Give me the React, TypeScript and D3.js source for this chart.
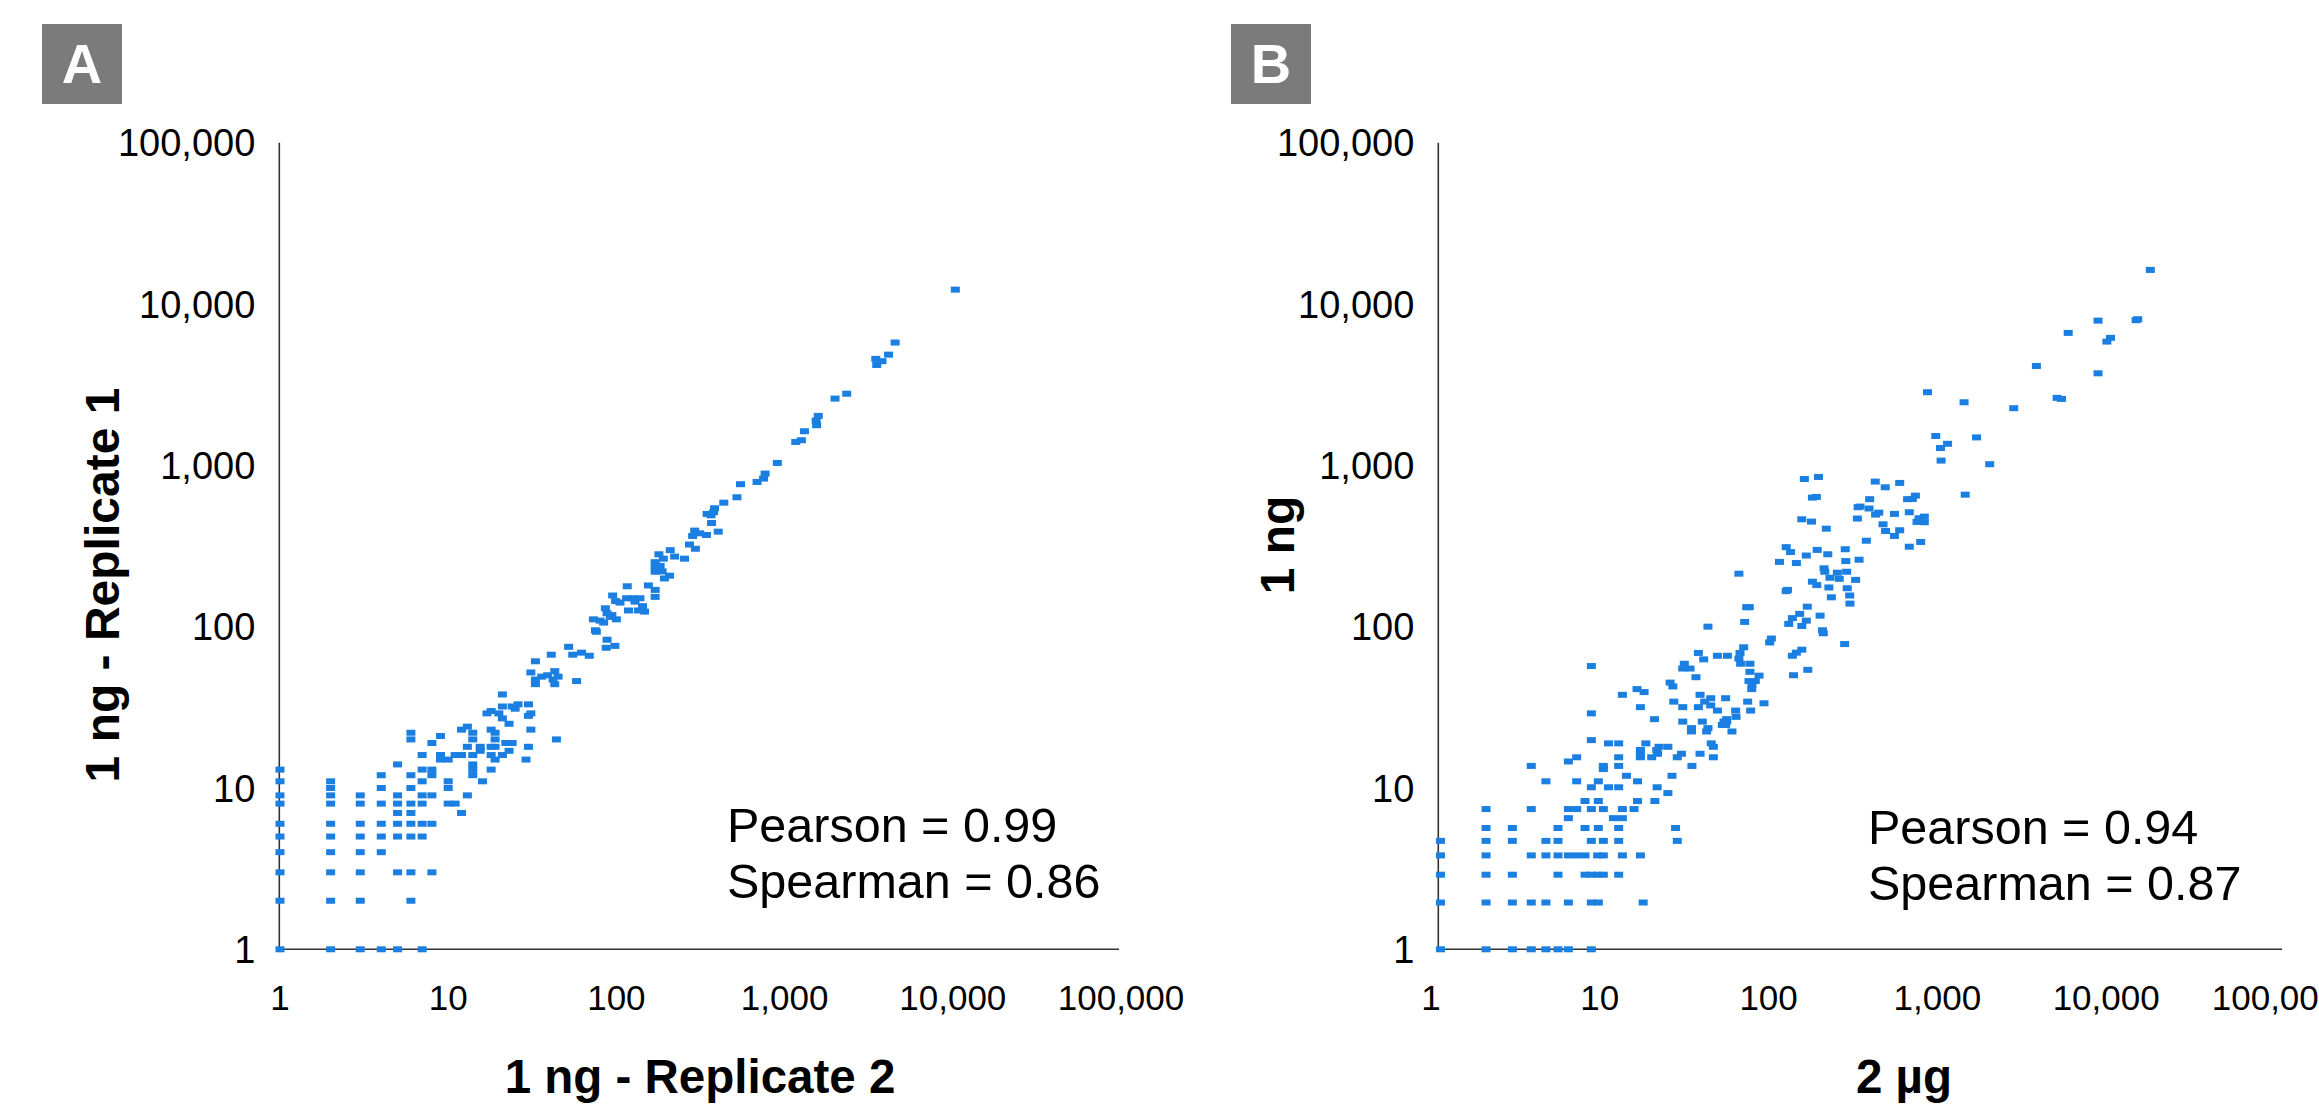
import React from 'react';
import * as d3 from 'd3';

// ---------- tick values / labels ----------
const tickValues: number[] = [1, 10, 100, 1000, 10000, 100000];
const tickLabels: string[] = ['1', '10', '100', '1,000', '10,000', '100,000'];

// ---------- Panel A : 1 ng replicate 2 (x) vs replicate 1 (y) ----------
const panelALow: [number, number][] = [
  [1, 1], [1, 2], [1, 3], [1, 4], [1, 5], [1, 6], [1, 8], [1, 9], [1, 11], [1, 13],
  [2, 1], [2, 2], [2, 3], [2, 4], [2, 5], [2, 6], [2, 8], [2, 9], [2, 10], [2, 11],
  [3, 1], [3, 2], [3, 3], [3, 4], [3, 5], [3, 6], [3, 8], [3, 9],
  [4, 1], [4, 4], [4, 5], [4, 6], [4, 8], [4, 10], [4, 12],
  [5, 1], [5, 3], [5, 5], [5, 6], [5, 7], [5, 8], [5, 9], [5, 14],
  [6, 2], [6, 3], [6, 5], [6, 6], [6, 7], [6, 8], [6, 10], [6, 12], [6, 20], [6, 22],
  [7, 1], [7, 5], [7, 6], [7, 8], [7, 9], [7, 11], [7, 13], [7, 16],
  [8, 3], [8, 6], [8, 9], [8, 12], [8, 13], [8, 19],
  [9, 15], [9, 16], [9, 21],
  [10, 8], [10, 10], [10, 11], [10, 15],
  [11, 8], [11, 16], [12, 7], [12, 16], [12, 23], [13, 9], [13, 18], [13, 24],
  [14, 12], [14, 13], [14, 14], [14, 16], [14, 20], [14, 22],
];

const panelAMid: [number, number][] = [
  [15.5, 18], [15.5, 17], [16, 11], [17, 29], [18, 30], [18, 23], [18, 18], [18, 16], [18, 13],
  [19, 22], [19, 20], [19, 18], [19, 15], [20, 29], [21, 38], [21, 32], [21, 27], [21, 16], [22, 19],
  [23, 25], [23, 17], [24, 32], [24, 19], [25, 31], [26, 33], [29, 15], [30, 33], [30, 28], [30, 18],
  [31, 52], [31, 29], [31, 23], [33, 47], [33, 44], [33, 61], [36, 49], [39, 50], [41, 67], [42, 47],
  [43, 53], [43, 44], [44, 20], [45, 49], [52, 75], [55, 67], [58, 46], [62, 69], [69, 66],
  [73, 111], [80, 109], [84, 106], [75, 95], [76, 93], [88, 83], [87, 74], [98, 76],
  [86, 130], [88, 121], [94, 118], [100, 111], [92, 115], [95, 156], [99, 144], [105, 141],
  [115, 150], [125, 150], [138, 150], [129, 143], [143, 134], [118, 126], [135, 126], [147, 124],
  [116, 178], [155, 180], [170, 169], [170, 153], [179, 281], [170, 251], [170, 234], [170, 219],
];

const panelAHigh: [number, number][] = [
  [182, 238], [187, 220], [190, 264], [193, 199], [207, 207], [209, 298], [222, 272], [254, 264],
  [272, 323], [295, 304], [292, 394], [284, 365], [313, 379], [343, 370], [368, 439], [403, 388],
  [365, 490], [346, 500], [378, 512], [383, 542], [435, 587], [521, 634], [547, 764], [686, 789],
  [750, 828], [766, 889], [905, 1035], [1165, 1397], [1258, 1431], [1312, 1627], [1550, 1773],
  [1540, 1893], [1585, 2025], [1995, 2593], [2340, 2780], [3530, 4190], [3795, 4420], [3485, 4570],
  [4150, 4855], [4540, 5770], [10350, 12280],
];

// ---------- Panel B : 2 µg (x) vs 1 ng (y) ----------
const panelBLow: [number, number][] = [
  [1.02, 1], [1.9, 1], [2.72, 1], [3.52, 1], [4.3, 1], [5.07, 1], [5.84, 1], [7.99, 1],
  [1.02, 1.95], [1.9, 1.95], [2.72, 1.95], [3.52, 1.95], [4.3, 1.95], [5.84, 1.95], [7.99, 1.95], [8.79, 1.95], [16.2, 1.95],
  [1.02, 2.9], [1.9, 2.9], [2.72, 2.9], [5.07, 2.9], [7.33, 2.9], [7.99, 2.9], [8.71, 2.9], [9.41, 2.9], [11.6, 2.9],
  [1.02, 3.82], [1.9, 3.82], [3.52, 3.82], [4.3, 3.82], [5.07, 3.82], [5.84, 3.82], [6.54, 3.82], [7.33, 3.82], [8.71, 3.82], [9.41, 3.82], [12.2, 3.82], [15.6, 3.82],
  [1.02, 4.7], [1.9, 4.7], [2.72, 4.7], [4.3, 4.7], [5.07, 4.7], [7.99, 4.7], [9.41, 4.7], [11.6, 4.7], [25.8, 4.7],
  [1.9, 5.65], [2.72, 5.65], [5.07, 5.65], [7.33, 5.65], [8.79, 5.65], [11.6, 5.65], [25.2, 5.65],
  [5.84, 6.5], [10.8, 6.5], [12.2, 6.5],
  [1.9, 7.4], [3.52, 7.4], [5.84, 7.4], [6.54, 7.4], [7.99, 7.4], [9.41, 7.4], [12.2, 7.4], [14.3, 7.4],
  [7.33, 8.3], [8.79, 8.3], [15, 8.3], [19, 8.3], [22.7, 9.3],
  [7.99, 10.1], [10.1, 10.1], [11.6, 10.1], [19.6, 10.1],
  [4.3, 11], [6.54, 11], [8.79, 11], [15, 11], [12.9, 11.9], [24, 11.9],
  [9.41, 13.1], [3.52, 13.7], [9.41, 13.7], [11.6, 13.7], [31.5, 13.7], [5.84, 14.6],
  [6.54, 15.5], [11.6, 15.5], [15.6, 15.5], [18.2, 15.5], [25.8, 15.5], [42.2, 15.5],
  [15.6, 16.3], [19.7, 16.3], [27.3, 16.3], [35.2, 16.3], [15.6, 17.2], [19.5, 17.2],
  [20.1, 18], [22.7, 18], [42.2, 18], [10.1, 18.9], [11.6, 18.9], [16.8, 18.9], [41, 18.9], [7.99, 19.8],
];

const panelBMid: [number, number][] = [
  [31.3, 22.4], [38.5, 22.4], [54.4, 22.4], [31.3, 23.5], [39.2, 23.5], [47.7, 24.6], [49.9, 24.6],
  [27.8, 25.8], [36.3, 25.8], [50.6, 25.8], [48.8, 25.8], [18.9, 26.7], [50.6, 26.7], [57.5, 27.6],
  [7.99, 29], [44.6, 30.2], [57.2, 30.2], [70.2, 30.2], [15.6, 31.7], [27.8, 31.7], [34.4, 31.7],
  [40.7, 32.5], [84.2, 33.5], [24.6, 34.3], [37.5, 34.3], [67.4, 34.3], [49.9, 36], [40.7, 36],
  [12.2, 37.8], [35.2, 37.8], [16.4, 39.3], [14.9, 41], [71.2, 41], [24.3, 42.6], [71.5, 43.7],
  [23.4, 45], [74.8, 46], [68.6, 46], [33.3, 48.6], [78.7, 49.7], [69.5, 52.5], [27.8, 55], [30.7, 55],
  [7.99, 57], [28.4, 58.9], [61.2, 58.9], [69.5, 58.9], [37, 62.7], [59.8, 63.4], [44.6, 66], [51.1, 66],
  [34.4, 68.7], [60.7, 68.7], [63.8, 74.5], [91, 79.8], [93.1, 84.4], [39.2, 100], [64.7, 107],
  [66.5, 132], [68.9, 132], [59.8, 213],
];

const panelBHigh: [number, number][] = [
  [141, 72], [131, 69], [124, 66], [126, 50], [153, 54], [253, 78], [187, 95], [189, 91], [118, 104],
  [124, 113], [137, 120], [141, 101], [150, 109], [152, 133], [181, 117], [116, 169], [114, 166],
  [163, 190], [173, 181], [204, 175], [211, 152], [262, 173], [271, 156], [272, 139], [191, 230],
  [193, 219], [207, 201], [229, 216], [235, 198], [260, 219], [294, 195], [104, 252], [131, 248],
  [150, 276], [174, 299], [201, 281], [255, 302], [257, 255], [308, 260], [114, 311], [121, 290],
  [141, 463], [161, 448], [197, 405], [340, 341], [146, 823], [177, 847], [163, 631], [172, 637],
  [301, 468], [312, 555], [304, 550], [356, 617], [353, 540],
  [384, 793], [440, 731], [536, 778], [664, 649], [597, 617], [637, 619], [386, 495], [403, 509],
  [499, 500], [611, 512], [698, 470], [750, 481], [750, 444], [679, 446], [427, 431], [442, 392],
  [536, 396], [499, 365], [714, 335], [611, 313],
  [943, 1070], [1830, 1016], [1310, 658], [877, 1520], [1030, 1360], [935, 1280], [1530, 1490],
  [783, 2840], [1290, 2460], [2540, 2260], [4590, 2620], [4870, 2580], [3460, 4130], [8020, 3720],
  [5340, 6620], [9510, 6170], [9050, 5850], [8020, 7890], [13780, 8050], [13490, 7940], [16370, 16270],
];

const panelAStats: string[] = ['Pearson = 0.99', 'Spearman = 0.86'];
const panelBStats: string[] = ['Pearson = 0.94', 'Spearman = 0.87'];

const FONT = '"Liberation Sans", Arial, Helvetica, sans-serif';
const BLUE = '#1a7fe0';
const AXIS = '#333333';

type PanelProps = {
  letter: string;
  boxX: number;
  x0: number;
  x1: number;
  axisEnd: number;
  xLabelShift: number;
  data: [number, number][];
  xTitle: string;
  xTitleX: number;
  yTitle: string;
  yTitleX: number;
  yTitleY: number;
  stats: string[];
  statsX: number;
  statsY: number;
};

const Y_BOTTOM = 949.3;
const Y_TOP = 142.7;

function Panel(p: PanelProps) {
  const xs = d3.scaleLog().domain([1, 100000]).range([p.x0, p.x1]);
  const ys = d3.scaleLog().domain([1, 100000]).range([Y_BOTTOM, Y_TOP]);
  const axisX = p.x0 - 0.7;
  return (
    <g>
      <rect x={p.boxX} y={24} width={80} height={80} fill="#7b7b7b" />
      <text x={p.boxX + 40} y={83} textAnchor="middle" fill="#fff" fontSize={56} fontWeight="bold" fontFamily={FONT}>
        {p.letter}
      </text>
      {/* axes */}
      <line x1={axisX} x2={axisX} y1={Y_TOP} y2={Y_BOTTOM} stroke={AXIS} strokeWidth={1.6} />
      <line x1={axisX} x2={p.axisEnd} y1={Y_BOTTOM} y2={Y_BOTTOM} stroke={AXIS} strokeWidth={1.6} />
      {/* y ticks */}
      {tickValues.map((v, i) => (
        <text key={'y' + i} x={axisX - 24} y={ys(v)} dy="0.36em" textAnchor="end" fontSize={38} fontFamily={FONT} fill="#000">
          {tickLabels[i]}
        </text>
      ))}
      {/* x ticks */}
      {tickValues.map((v, i) => (
        <text key={'x' + i} x={xs(v) + p.xLabelShift} y={1010} textAnchor="middle" fontSize={35} fontFamily={FONT} fill="#000">
          {tickLabels[i]}
        </text>
      ))}
      {/* points */}
      {p.data.map((d, i) => (
        <rect key={'p' + i} x={xs(d[0]) - 4.5} y={ys(d[1]) - 3} width={9} height={6} fill={BLUE} />
      ))}
      {/* titles */}
      <text x={p.xTitleX} y={1093} textAnchor="middle" fontSize={47.5} fontWeight="bold" fontFamily={FONT} fill="#000">
        {p.xTitle}
      </text>
      <text
        transform={`translate(${p.yTitleX},${p.yTitleY}) rotate(-90)`}
        textAnchor="middle"
        fontSize={48}
        fontWeight="bold"
        fontFamily={FONT}
        fill="#000"
      >
        {p.yTitle}
      </text>
      {p.stats.map((s, i) => (
        <text key={'s' + i} x={p.statsX} y={p.statsY + i * 56} fontSize={48.5} fontFamily={FONT} fill="#000">
          {s}
        </text>
      ))}
    </g>
  );
}

export default function App() {
  const dataA = [...panelALow, ...panelAMid, ...panelAHigh];
  const dataB = [...panelBLow, ...panelBMid, ...panelBHigh];
  return (
    <svg
      width={2319}
      height={1109}
      viewBox="0 0 2319 1109"
      style={{ position: 'absolute', left: 0, top: 0, background: '#fff' }}
    >
      <rect x={0} y={0} width={2319} height={1109} fill="#fff" />
      <Panel
        letter="A"
        boxX={42}
        x0={280}
        x1={1121}
        axisEnd={1119}
        xLabelShift={0}
        data={dataA}
        xTitle="1 ng - Replicate 2"
        xTitleX={700}
        yTitle="1 ng - Replicate 1"
        yTitleX={119}
        yTitleY={585}
        stats={panelAStats}
        statsX={727}
        statsY={842}
      />
      <Panel
        letter="B"
        boxX={1231}
        x0={1439}
        x1={2283}
        axisEnd={2282}
        xLabelShift={-8}
        data={dataB}
        xTitle="2 µg"
        xTitleX={1904}
        yTitle="1 ng"
        yTitleX={1294}
        yTitleY={545}
        stats={panelBStats}
        statsX={1868}
        statsY={844}
      />
    </svg>
  );
}
